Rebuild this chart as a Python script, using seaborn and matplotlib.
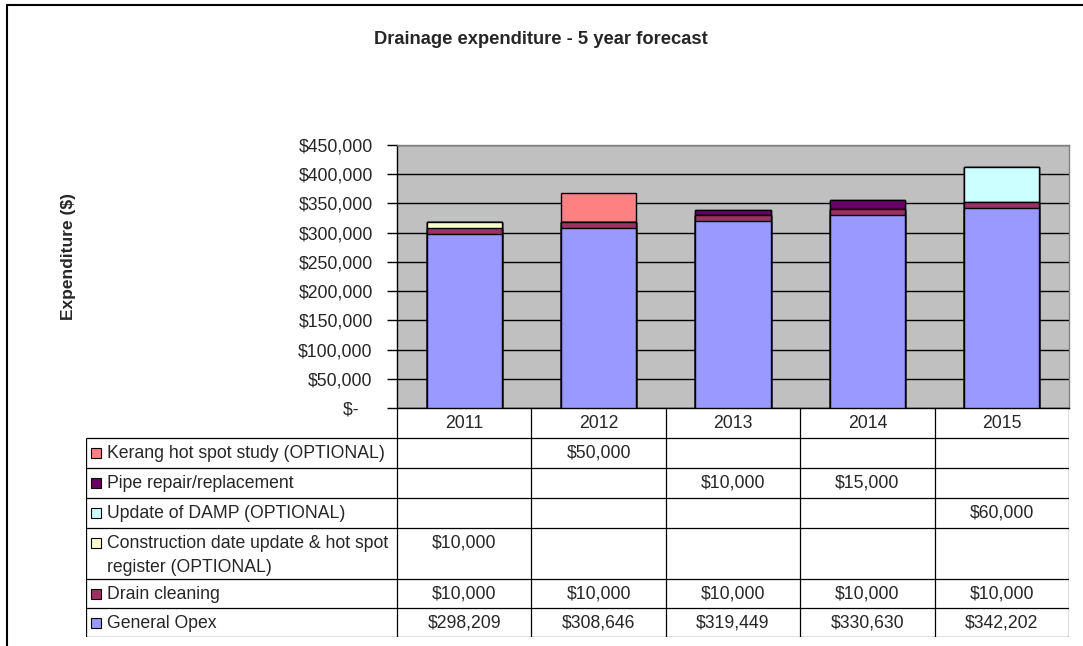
import matplotlib
matplotlib.use("Agg")
import matplotlib.pyplot as plt
import seaborn as sns
import numpy as np
from matplotlib.lines import Line2D
from matplotlib.patches import Rectangle

# ---- data -------------------------------------------------------------
years = ["2011", "2012", "2013", "2014", "2015"]
general_opex = [298209, 308646, 319449, 330630, 342202]
drain_cleaning = [10000, 10000, 10000, 10000, 10000]
construction_update = [10000, 0, 0, 0, 0]
damp_update = [0, 0, 0, 0, 60000]
pipe_repair = [0, 0, 10000, 15000, 0]
kerang_study = [0, 50000, 0, 0, 0]

# stacking order, bottom to top
series_names = [
    "General Opex",
    "Drain cleaning",
    "Construction date update & hot spot\nregister (OPTIONAL)",
    "Update of DAMP (OPTIONAL)",
    "Pipe repair/replacement",
    "Kerang hot spot study (OPTIONAL)",
]
series_values = [general_opex, drain_cleaning, construction_update,
                 damp_update, pipe_repair, kerang_study]
series_colors = ["#9999FF", "#993366", "#FFFFCC", "#CCFFFF", "#660066", "#FF8080"]
y_ticks = list(range(0, 450001, 50000))

# ---- style ------------------------------------------------------------
sns.set_style("ticks")
plt.rcParams["font.family"] = ["Liberation Sans", "DejaVu Sans"]
FS = 12.7

W, H = 1083, 646
fig = plt.figure(figsize=(W / 100, H / 100), dpi=100)


def fx(px):
    return px / W


def fy(py):
    return 1 - py / H


# plot area (pixel edges)
PL, PR, PT, PB = 397, 1069, 145, 408
ax = fig.add_axes([fx(PL), fy(PB), fx(PR) - fx(PL), fy(PT) - fy(PB)])
ax.set_facecolor("#C0C0C0")

# stacked columns: draw cumulative totals from the top down so each
# lower segment covers the one above it
cum = np.cumsum(np.array(series_values, dtype=float), axis=0)
for i in reversed(range(len(series_values))):
    sns.barplot(x=years, y=cum[i], color=series_colors[i], saturation=1,
                edgecolor="black", linewidth=1, width=0.56, ax=ax, zorder=3)

ax.set_xlim(-0.5, len(years) - 0.5)
ax.set_ylim(0, 450000)
ax.set_yticks(y_ticks)
ax.set_yticklabels([f"${v:,.0f}" if v else "$-   " for v in y_ticks])
ax.set_xticks(range(len(years)))
ax.set_xticklabels([])
ax.set_xlabel("")
ax.set_ylabel("")
ax.tick_params(axis="y", direction="out", length=7, width=1, color="black",
               labelsize=FS, pad=10.5)
ax.tick_params(axis="x", length=0)
ax.yaxis.grid(True, color="black", linewidth=1)
ax.set_axisbelow(True)
for side in ("left", "bottom"):
    ax.spines[side].set_color("black")
    ax.spines[side].set_linewidth(1)
for side in ("top", "right"):
    ax.spines[side].set_color("#808080")
    ax.spines[side].set_linewidth(1)

# ---- data table beneath the columns ----------------------------------
TL = 86
row_edges = [408, 438, 468, 498, 528, 579, 608, 637]
tab = fig.add_axes([fx(TL), fy(row_edges[-1]), fx(PR) - fx(TL),
                    fy(row_edges[0]) - fy(row_edges[-1])])
tab.set_xlim(TL, PR)
tab.set_ylim(row_edges[-1], row_edges[0])
tab.axis("off")

col_w = (PR - PL) / len(years)
col_edges = [PL + k * col_w for k in range(len(years) + 1)]
col_centers = [PL + (k + 0.5) * col_w for k in range(len(years))]

line_kw = dict(color="black", linewidth=0.9, solid_capstyle="butt")
for y in row_edges[1:]:
    tab.plot([TL, PR], [y, y], **line_kw)
for x in col_edges:
    tab.plot([x, x], [row_edges[0], row_edges[-1]], **line_kw)
tab.plot([TL, TL], [row_edges[1], row_edges[-1]], **line_kw)

for c, yr in zip(col_centers, years):
    tab.text(c, (row_edges[0] + row_edges[1]) / 2, yr, ha="center",
             va="center", fontsize=FS)

table_order = list(reversed(range(len(series_values))))
for r, si in enumerate(table_order):
    top = row_edges[r + 1]
    y0 = top + 15
    tab.add_patch(Rectangle((91, y0 - 5), 10, 10, facecolor=series_colors[si],
                            edgecolor="black", linewidth=0.8))
    for k, line in enumerate(series_names[si].split("\n")):
        tab.text(107, y0 + k * 24, line, ha="left", va="center", fontsize=FS)
    for c, v in zip(col_centers, series_values[si]):
        if v:
            tab.text(c, y0, f"${v:,.0f}", ha="center", va="center", fontsize=FS)

# ---- titles and frame -----------------------------------------------
fig.text(fx(541), fy(40), "Drainage expenditure - 5 year forecast",
         ha="center", va="center", fontsize=13.2, fontweight="bold")
fig.text(fx(68), fy(256), "Expenditure ($)", rotation=90, ha="center",
         va="center", fontsize=12.5, fontweight="bold")

fig.add_artist(Line2D([fx(7), fx(7)], [fy(5), 0], color="black", linewidth=1.5))
fig.add_artist(Line2D([fx(7), 1], [fy(5), fy(5)], color="black", linewidth=1.5))

fig.savefig("out.png", dpi=100)
